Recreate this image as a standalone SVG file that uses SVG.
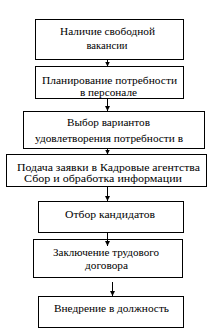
<svg xmlns="http://www.w3.org/2000/svg" width="216" height="328" viewBox="0 0 216 328">
<style>
.box{fill:#fff;stroke:#000;stroke-width:1}
.t{font-family:"Liberation Serif","Times New Roman",serif;font-size:11px;fill:#000;text-anchor:middle}
.c{stroke:#000;stroke-width:1;fill:none;marker-end:url(#ah)}
</style>
<defs>
<marker id="ah" markerUnits="userSpaceOnUse" markerWidth="6" markerHeight="6" refX="5" refY="3" orient="auto">
<path d="M0,0.5 L5,3 L0,5.5 Z" fill="#000"/>
</marker>
</defs>
<rect width="216" height="328" fill="#fff"/>
<g id="n1"><rect class="box" x="35.5" y="19.5" width="148" height="40"/><text class="t" x="107.5" y="35" textLength="95" lengthAdjust="spacingAndGlyphs">Наличие свободной</text><text class="t" x="107" y="49" textLength="41" lengthAdjust="spacingAndGlyphs">вакансии</text></g>
<g id="n2"><rect class="box" x="35.5" y="66.5" width="148" height="32"/><text class="t" x="109.5" y="84" textLength="135" lengthAdjust="spacingAndGlyphs">Планирование потребности</text><text class="t" x="108.5" y="96" textLength="57" lengthAdjust="spacingAndGlyphs">в персонале</text></g>
<g id="n3"><rect class="box" x="23.5" y="111.5" width="181" height="37"/><text class="t" x="108.5" y="126" textLength="83" lengthAdjust="spacingAndGlyphs">Выбор вариантов</text><text class="t" x="109" y="141.5" textLength="148" lengthAdjust="spacingAndGlyphs">удовлетворения потребности в</text></g>
<g id="n4"><rect class="box" x="6.5" y="154.5" width="200" height="32"/><text class="t" x="108.5" y="170.5" textLength="183" lengthAdjust="spacingAndGlyphs">Подача заявки в Кадровые  агентства</text><text class="t" x="103" y="182" textLength="158" lengthAdjust="spacingAndGlyphs">Сбор и обработка информации</text></g>
<g id="n5"><rect class="box" x="38.5" y="201.5" width="145" height="31"/><text class="t" x="110" y="218" textLength="90" lengthAdjust="spacingAndGlyphs">Отбор кандидатов</text></g>
<g id="n6"><rect class="box" x="33.5" y="239.5" width="149" height="38"/><text class="t" x="106" y="255.5" textLength="106" lengthAdjust="spacingAndGlyphs">Заключение трудового</text><text class="t" x="106.5" y="269" textLength="43" lengthAdjust="spacingAndGlyphs">договора</text></g>
<g id="n7"><rect class="box" x="38.5" y="296.5" width="145" height="31"/><text class="t" x="111.5" y="312" textLength="115" lengthAdjust="spacingAndGlyphs">Внедрение в должность</text></g>
<g id="connectors">
<line class="c" x1="107.5" y1="59.5" x2="107.5" y2="66.5"/>
<line class="c" x1="107.5" y1="98.5" x2="107.5" y2="111"/>
<line class="c" x1="107.5" y1="148.5" x2="107.5" y2="154.5"/>
<line class="c" x1="107.5" y1="186.5" x2="107.5" y2="201"/>
<line class="c" x1="107.5" y1="232.5" x2="107.5" y2="246"/>
<line class="c" x1="112.5" y1="282" x2="112.5" y2="296"/>
</g>
</svg>
